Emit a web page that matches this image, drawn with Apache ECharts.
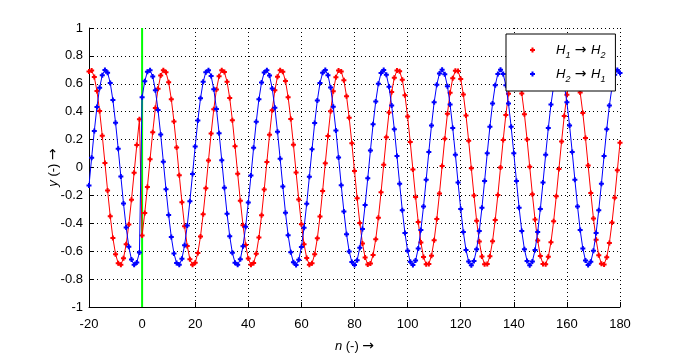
<!DOCTYPE html>
<html>
<head>
<meta charset="utf-8">
<script src="https://cdn.jsdelivr.net/npm/echarts@6/dist/echarts.min.js"></script>
<style>
html,body{margin:0;padding:0;background:#fff;}
#chart{width:685px;height:358px;}
</style>
</head>
<body>
<div id="chart"></div>
<script>
// sample index n runs from -20 to 180 (one value per integer n)
const nStart = -20;
const nEnd = 180;
const xTicks = [-20, 0, 20, 40, 60, 80, 100, 120, 140, 160, 180];
const yTicks = [-1, -0.8, -0.6, -0.4, -0.2, 0, 0.2, 0.4, 0.6, 0.8, 1];
const markerPosition = 0; // green vertical line at n = 0

// H1 -> H2 (red), n = -20 .. 180
const redValues = [
0.688, 0.696, 0.648, 0.548, 0.405, 0.228, 0.032, -0.165, -0.350, -0.506, -0.621, -0.687, -0.697, -0.650, -0.551, -0.408, -0.232, -0.037, 0.161, 0.346,
-0.487, -0.326,
-0.139, 0.060, 0.253, 0.426, 0.565, 0.659, 0.698, 0.682, 0.611, 0.490, 0.330, 0.144, -0.055, -0.249, -0.422, -0.562, -0.657, -0.698, -0.683, -0.613, -0.494, -0.335,
-0.148, 0.050, 0.244, 0.418, 0.559, 0.655, 0.698, 0.684, 0.615, 0.498, 0.339, 0.153, -0.045, -0.239, -0.414, -0.556, -0.653, -0.698, -0.685, -0.618, -0.501, -0.343,
-0.158, 0.040, 0.235, 0.410, 0.553, 0.651, 0.697, 0.686, 0.620, 0.504, 0.348, 0.163, -0.035, -0.230, -0.406, -0.550, -0.649, -0.697, -0.687, -0.622, -0.508, -0.352,
-0.168, 0.030, 0.225, 0.403, 0.547, 0.647, 0.696, 0.688, 0.625, 0.511, 0.356, 0.173, -0.025, -0.220, -0.398, -0.544, -0.645, -0.695, -0.689, -0.627, -0.514, -0.361,
-0.178, 0.020, 0.216, 0.394, 0.541, 0.644, 0.695, 0.690, 0.629, 0.518, 0.365, 0.182, -0.015, -0.211, -0.390, -0.538, -0.642, -0.694, -0.691, -0.632, -0.521, -0.369,
-0.187, 0.010, 0.206, 0.386, 0.535, 0.640, 0.693, 0.691, 0.634, 0.524, 0.373, 0.192, -0.005, -0.201, -0.382, -0.531, -0.638, -0.693, -0.692, -0.636, -0.528, -0.377,
-0.197, 0.000, 0.197, 0.377, 0.528, 0.636, 0.692, 0.693, 0.638, 0.531, 0.382, 0.201, 0.005, -0.192, -0.373, -0.524, -0.634, -0.691, -0.693, -0.640, -0.535, -0.386,
-0.206, -0.010, 0.187, 0.369, 0.521, 0.632, 0.691, 0.694, 0.642, 0.538, 0.390, 0.211, 0.015, -0.182, -0.365, -0.518, -0.629, -0.690, -0.695, -0.644, -0.541, -0.394,
-0.216, -0.020, 0.178
];

// H2 -> H1 (blue), n = -20 .. 180
const blueValues = [
-0.129, 0.070, 0.262, 0.434, 0.571, 0.662, 0.699, 0.680, 0.606, 0.483, 0.321, 0.134, -0.065, -0.258, -0.430, -0.568, -0.660, -0.698, -0.681, -0.609,
0.503, 0.619,
0.686, 0.697, 0.652, 0.554, 0.412, 0.237, 0.042, -0.156, -0.341, -0.499, -0.617, -0.685, -0.698, -0.654, -0.557, -0.416, -0.242, -0.047, 0.151, 0.337, 0.496, 0.614,
0.683, 0.698, 0.656, 0.561, 0.420, 0.246, 0.052, -0.146, -0.332, -0.492, -0.612, -0.682, -0.698, -0.658, -0.564, -0.424, -0.251, -0.057, 0.141, 0.328, 0.489, 0.610,
0.681, 0.698, 0.659, 0.567, 0.428, 0.256, 0.062, -0.136, -0.324, -0.485, -0.607, -0.680, -0.699, -0.661, -0.570, -0.432, -0.260, -0.067, 0.131, 0.319, 0.481, 0.605,
0.679, 0.699, 0.662, 0.573, 0.436, 0.265, 0.072, -0.127, -0.315, -0.478, -0.602, -0.678, -0.699, -0.664, -0.575, -0.440, -0.269, -0.077, 0.122, 0.310, 0.474, 0.600,
0.677, 0.699, 0.665, 0.578, 0.444, 0.274, 0.082, -0.117, -0.306, -0.470, -0.597, -0.676, -0.699, -0.667, -0.581, -0.448, -0.279, -0.087, 0.112, 0.301, 0.467, 0.594,
0.674, 0.700, 0.668, 0.583, 0.452, 0.283, 0.092, -0.107, -0.297, -0.463, -0.592, -0.673, -0.700, -0.670, -0.586, -0.456, -0.288, -0.097, 0.102, 0.292, 0.459, 0.589,
0.671, 0.700, 0.671, 0.589, 0.459, 0.292, 0.102, -0.097, -0.288, -0.456, -0.586, -0.670, -0.700, -0.673, -0.592, -0.463, -0.297, -0.107, 0.092, 0.283, 0.452, 0.583,
0.668, 0.700, 0.674, 0.594, 0.467, 0.301, 0.112, -0.087, -0.279, -0.448, -0.581, -0.667, -0.699, -0.676, -0.597, -0.470, -0.306, -0.117, 0.082, 0.274, 0.444, 0.578,
0.665, 0.699, 0.677
];

const seriesNames = ['H1→H2', 'H2→H1'];

const FONT = '"Liberation Sans", Arial, Helvetica, sans-serif';
const ARROW_FONT = '"DejaVu Sans", "Liberation Sans", sans-serif';
const DOT = 'path://M3,0H7V3H10V7H7V10H3V7H0V3H3Z';

const nValues = redValues.map((_, i) => nStart + i);
const redData = nValues.map((n, i) => [n, redValues[i]]);
const blueData = nValues.map((n, i) => [n, blueValues[i]]);

const chart = echarts.init(document.getElementById('chart'), null, {renderer: 'canvas'});

const legendRich = {
  sp: {width: 16, fontSize: 13, fontFamily: FONT},
  h: {fontStyle: 'italic', fontSize: 13, lineHeight: 20, fontFamily: FONT, color: '#000'},
  s: {fontStyle: 'italic', fontSize: 9, lineHeight: 9, verticalAlign: 'bottom', fontFamily: FONT, color: '#000'},
  a: {fontSize: 14, lineHeight: 20, fontFamily: ARROW_FONT, color: '#000'}
};

const nameRich = {
  i: {fontStyle: 'italic', fontSize: 13, fontFamily: FONT, color: '#000'},
  a: {fontSize: 14, fontFamily: ARROW_FONT, color: '#000'}
};

const option = {
  animation: false,
  backgroundColor: '#ffffff',
  textStyle: {fontFamily: FONT},
  grid: {left: 89, right: 65, top: 28, bottom: 39, containLabel: false},
  legend: {
    data: seriesNames,
    orient: 'vertical',
    left: 506,
    top: 34,
    padding: [9, 10, 7, 24],
    itemGap: 7,
    itemWidth: 5,
    itemHeight: 5,
    icon: DOT,
    backgroundColor: '#ffffff',
    borderColor: '#000000',
    borderWidth: 1,
    borderRadius: 0,
    selectedMode: false,
    textStyle: {rich: legendRich, fontSize: 13, color: '#000'},
    formatter: function (name) {
      if (name === seriesNames[0]) return '{sp|}{h|H}{s|1}{a| → }{h|H}{s|2}';
      return '{sp|}{h|H}{s|2}{a| → }{h|H}{s|1}';
    }
  },
  xAxis: {
    type: 'value',
    min: xTicks[0],
    max: xTicks[xTicks.length - 1],
    interval: 20,
    axisLine: {onZero: false, lineStyle: {color: '#000', width: 1}},
    axisTick: {inside: true, length: 5, lineStyle: {color: '#000', width: 1}},
    axisLabel: {color: '#000', fontSize: 13, margin: 11, fontFamily: FONT},
    splitLine: {show: true, lineStyle: {color: '#000', width: 1, type: [1, 3]}},
    name: '{i|n} (-) {a|→}',
    nameLocation: 'middle',
    nameGap: 32,
    nameMoveOverlap: false,
    nameTextStyle: {color: '#000', fontSize: 13, fontFamily: FONT, rich: nameRich}
  },
  yAxis: {
    type: 'value',
    min: yTicks[0],
    max: yTicks[yTicks.length - 1],
    interval: 0.2,
    axisLine: {show: true, onZero: false, lineStyle: {color: '#000', width: 1}},
    axisTick: {show: true, inside: true, length: 5, lineStyle: {color: '#000', width: 1}},
    axisLabel: {color: '#000', fontSize: 13, margin: 6, fontFamily: FONT},
    splitLine: {show: true, lineStyle: {color: '#000', width: 1, type: [1, 3]}},
    name: '{i|y} (-) {a|→}',
    nameLocation: 'middle',
    nameGap: 29,
    nameMoveOverlap: false,
    nameTextStyle: {color: '#000', fontSize: 13, fontFamily: FONT, rich: nameRich}
  },
  series: [
    {
      name: 'marker',
      type: 'line',
      data: [[markerPosition, yTicks[0]], [markerPosition, yTicks[yTicks.length - 1]]],
      symbol: 'none',
      silent: true,
      lineStyle: {color: '#00ff00', width: 2},
      z: 1
    },
    {
      name: seriesNames[0],
      type: 'line',
      data: redData,
      symbol: DOT,
      symbolSize: 5,
      showAllSymbol: true,
      color: '#ff0000',
      itemStyle: {color: '#ff0000'},
      lineStyle: {color: '#ff0000', width: 1},
      z: 2
    },
    {
      name: seriesNames[1],
      type: 'line',
      data: blueData,
      symbol: DOT,
      symbolSize: 5,
      showAllSymbol: true,
      color: '#0000ff',
      itemStyle: {color: '#0000ff'},
      lineStyle: {color: '#0000ff', width: 1},
      z: 3
    }
  ]
};

chart.setOption(option);
</script>
</body>
</html>
